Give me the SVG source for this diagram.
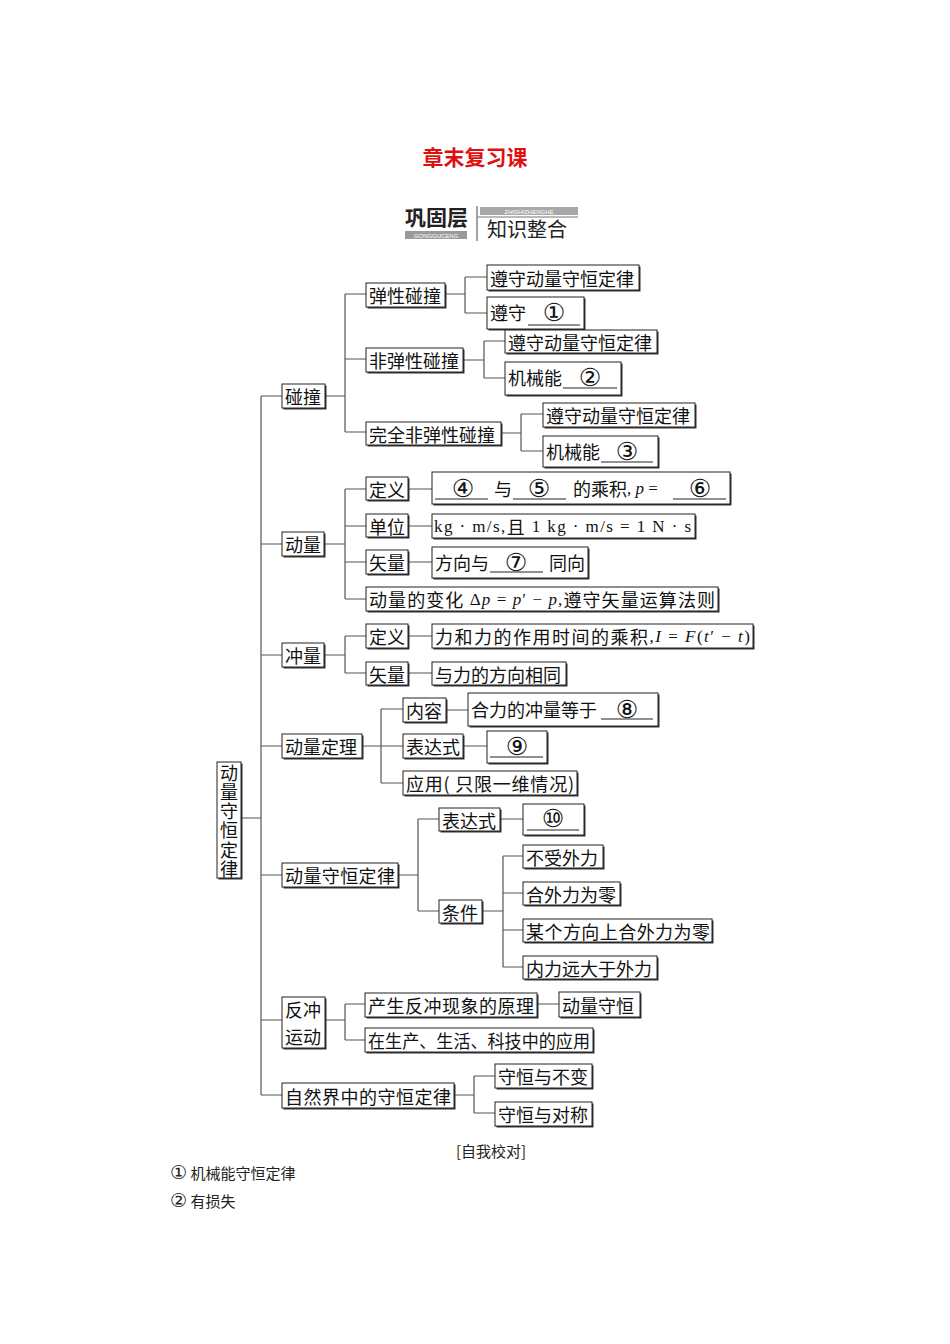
<svg xmlns="http://www.w3.org/2000/svg" width="950" height="1344" viewBox="0 0 950 1344">
<style>
.bg{fill:#fff}
.sh{fill:#333}
.bx{fill:#fff;stroke:#222;stroke-width:1}
.t{font-family:"Noto Sans CJK SC","Noto Sans",sans-serif;font-size:18px;fill:#111;dominant-baseline:central}
.cn{font-family:"DejaVu Sans","Noto Sans CJK SC",sans-serif;font-size:25px;fill:#111;dominant-baseline:central}
.m{font-family:"Liberation Serif","Noto Sans CJK SC",serif;font-size:17px;fill:#111}
.i{font-style:italic}
.ul{stroke:#222;stroke-width:1}
.c{fill:none;stroke:#555;stroke-width:1.2}
.fn{font-family:"Noto Sans CJK SC",sans-serif;font-size:15px;fill:#222;dominant-baseline:central}
</style>
<rect class="bg" x="0" y="0" width="950" height="1344"/>

<g id="title">
<text x="475" y="156" text-anchor="middle" style="font-family:'Noto Sans CJK SC',sans-serif;font-size:21px;font-weight:bold;fill:#e01010" dominant-baseline="central">章末复习课</text>
</g>

<g id="header">
<text x="405" y="225" style="font-family:'Noto Sans CJK SC',sans-serif;font-size:21px;font-weight:bold;fill:#222">巩固层</text>
<rect x="405" y="231" width="62" height="8" fill="#9a9a9a"/>
<text x="436" y="237.5" text-anchor="middle" style="font-family:'Liberation Sans',sans-serif;font-size:6px;fill:#fff">GONGGUCENG</text>
<line x1="477" y1="206" x2="477" y2="241" stroke="#444" stroke-width="1"/>
<rect x="480" y="207" width="98" height="8" fill="#a8a8a8"/>
<text x="529" y="213.5" text-anchor="middle" style="font-family:'Liberation Sans',sans-serif;font-size:6px;fill:#fff">ZHISHIZHENGHE</text>
<line x1="477" y1="217" x2="578" y2="217" stroke="#777" stroke-width="1"/>
<text x="487" y="237" style="font-family:'Noto Sans CJK SC',sans-serif;font-size:20px;fill:#222">知识整合</text>
</g>

<g id="connectors">
<path class="c" d="M241,818H261M261,396V1095M261,396H282M261,544H282M261,655H282M261,746H282M261,875H282M261,1020H282M261,1095H282"/>
<path class="c" d="M325,396H345M345,294V432M345,294H366M345,359H366M345,432H366"/>
<path class="c" d="M445,294H465M465,277V313M465,277H487M465,313H487"/>
<path class="c" d="M463,360H484M484,341V378M484,341H505M484,378H505"/>
<path class="c" d="M501,433H521M521,414V451M521,414H543M521,451H543"/>
<path class="c" d="M324,544H345M345,489V599M345,489H366M345,526H366M345,562H366M345,599H366"/>
<path class="c" d="M408,489H432M408,526H432M408,562H432"/>
<path class="c" d="M324,655H345M345,636V673M345,636H366M345,673H366M408,636H432M408,673H432"/>
<path class="c" d="M362,746H381M381,709V783M381,709H403M381,746H403M381,783H403M446,710H468M463,746H487"/>
<path class="c" d="M398,875H418M418,819V911M418,819H439M418,911H439M500,819H523"/>
<path class="c" d="M482,911H503M503,856V967M503,856H523M503,893H523M503,930H523M503,967H523"/>
<path class="c" d="M325,1020H345M345,1004V1040M345,1004H365M345,1040H365M537,1004H559"/>
<path class="c" d="M454,1095H474M474,1076V1113M474,1076H495M474,1113H495"/>
</g>

<g id="root">
<rect class="sh" x="218.5" y="763.5" width="24" height="116"/>
<rect class="bx" x="217" y="762" width="24" height="116"/>
<text x="229" y="764" style="font-family:'Noto Sans CJK SC',sans-serif;font-size:18px;fill:#111;writing-mode:vertical-rl;letter-spacing:1.2px">动量守恒定律</text>
</g>

<g id="n-pengzhuang"><rect class="sh" x="283.5" y="385.5" width="43" height="24"/><rect class="bx" x="282" y="384" width="43" height="24"/><text class="t" x="285" y="396">碰撞</text></g>
<g id="n-tanxing"><rect class="sh" x="367.5" y="284.5" width="79" height="24"/><rect class="bx" x="366" y="283" width="79" height="24"/><text class="t" x="369" y="295">弹性碰撞</text></g>
<g id="n-tanxing-1"><rect class="sh" x="488.5" y="266.5" width="152" height="25"/><rect class="bx" x="487" y="265" width="152" height="25"/><text class="t" x="490" y="277.5">遵守动量守恒定律</text></g>
<g id="n-tanxing-2"><rect class="sh" x="488.5" y="298.5" width="97" height="32"/><rect class="bx" x="487" y="297" width="97" height="32"/><text class="t" x="490" y="312">遵守</text><line class="ul" x1="528" y1="325" x2="580" y2="325"/><text class="cn" x="554" y="312" text-anchor="middle">①</text></g>
<g id="n-feitanxing"><rect class="sh" x="367.5" y="349.5" width="97" height="24"/><rect class="bx" x="366" y="348" width="97" height="24"/><text class="t" x="369" y="360">非弹性碰撞</text></g>
<g id="n-feitanxing-1"><rect class="sh" x="506.5" y="331.5" width="152" height="23"/><rect class="bx" x="505" y="330" width="152" height="23"/><text class="t" x="508" y="341.5">遵守动量守恒定律</text></g>
<g id="n-feitanxing-2"><rect class="sh" x="506.5" y="363.5" width="116" height="33"/><rect class="bx" x="505" y="362" width="116" height="33"/><text class="t" x="508" y="377">机械能</text><line class="ul" x1="563" y1="388" x2="617" y2="388"/><text class="cn" x="590" y="377" text-anchor="middle">②</text></g>
<g id="n-wanquan"><rect class="sh" x="367.5" y="423.5" width="135" height="23"/><rect class="bx" x="366" y="422" width="135" height="23"/><text class="t" x="369" y="433.5">完全非弹性碰撞</text></g>
<g id="n-wanquan-1"><rect class="sh" x="544.5" y="404.5" width="152" height="24"/><rect class="bx" x="543" y="403" width="152" height="24"/><text class="t" x="546" y="415">遵守动量守恒定律</text></g>
<g id="n-wanquan-2"><rect class="sh" x="544.5" y="437.5" width="115" height="31"/><rect class="bx" x="543" y="436" width="115" height="31"/><text class="t" x="546" y="451">机械能</text><line class="ul" x1="601" y1="462" x2="653" y2="462"/><text class="cn" x="627" y="451" text-anchor="middle">③</text></g>

<g id="n-dongliang"><rect class="sh" x="283.5" y="533.5" width="42" height="24"/><rect class="bx" x="282" y="532" width="42" height="24"/><text class="t" x="285" y="544">动量</text></g>
<g id="n-dl-dingyi"><rect class="sh" x="367.5" y="478.5" width="42" height="23"/><rect class="bx" x="366" y="477" width="42" height="23"/><text class="t" x="369" y="488.5">定义</text></g>
<g id="n-dl-dingyi-1"><rect class="sh" x="433.5" y="473.5" width="298" height="32"/><rect class="bx" x="432" y="472" width="298" height="32"/>
<line class="ul" x1="435" y1="499" x2="488" y2="499"/><text class="cn" x="463" y="488" text-anchor="middle">④</text>
<text class="t" x="494" y="488">与</text>
<line class="ul" x1="513" y1="499" x2="566" y2="499"/><text class="cn" x="539" y="488" text-anchor="middle">⑤</text>
<text class="t" x="573" y="488">的乘积<tspan class="m">, </tspan><tspan class="m i">p</tspan><tspan class="m">  =  </tspan></text>
<line class="ul" x1="673" y1="499" x2="726" y2="499"/><text class="cn" x="700" y="488" text-anchor="middle">⑥</text></g>
<g id="n-dl-danwei"><rect class="sh" x="367.5" y="515.5" width="42" height="23"/><rect class="bx" x="366" y="514" width="42" height="23"/><text class="t" x="369" y="525.5">单位</text></g>
<g id="n-dl-danwei-1"><rect class="sh" x="433.5" y="515.5" width="263" height="24"/><rect class="bx" x="432" y="514" width="263" height="24"/><text class="t" x="434" y="526" textLength="257" lengthAdjust="spacing"><tspan class="m">kg · m/s,</tspan>且<tspan class="m"> 1 kg · m/s = 1 N · s</tspan></text></g>
<g id="n-dl-shiliang"><rect class="sh" x="367.5" y="551.5" width="42" height="24"/><rect class="bx" x="366" y="550" width="42" height="24"/><text class="t" x="369" y="562">矢量</text></g>
<g id="n-dl-shiliang-1"><rect class="sh" x="433.5" y="548.5" width="156" height="31"/><rect class="bx" x="432" y="547" width="156" height="31"/><text class="t" x="435" y="562">方向与</text><line class="ul" x1="490" y1="572" x2="543" y2="572"/><text class="cn" x="516" y="562" text-anchor="middle">⑦</text><text class="t" x="549" y="562">同向</text></g>
<g id="n-dl-bianhua"><rect class="sh" x="367.5" y="588.5" width="352" height="24"/><rect class="bx" x="366" y="587" width="352" height="24"/><text class="t" x="369" y="599" textLength="346" lengthAdjust="spacing">动量的变化<tspan class="m"> Δ</tspan><tspan class="m i">p</tspan><tspan class="m"> = </tspan><tspan class="m i">p</tspan><tspan class="m">′ − </tspan><tspan class="m i">p</tspan><tspan class="m">,</tspan>遵守矢量运算法则</text></g>

<g id="n-chongliang"><rect class="sh" x="283.5" y="644.5" width="42" height="24"/><rect class="bx" x="282" y="643" width="42" height="24"/><text class="t" x="285" y="655">冲量</text></g>
<g id="n-cl-dingyi"><rect class="sh" x="367.5" y="625.5" width="42" height="24"/><rect class="bx" x="366" y="624" width="42" height="24"/><text class="t" x="369" y="636">定义</text></g>
<g id="n-cl-dingyi-1"><rect class="sh" x="433.5" y="625.5" width="321" height="24"/><rect class="bx" x="432" y="624" width="321" height="24"/><text class="t" x="435" y="636" textLength="315" lengthAdjust="spacing">力和力的作用时间的乘积<tspan class="m">,</tspan><tspan class="m i">I</tspan><tspan class="m"> = </tspan><tspan class="m i">F</tspan><tspan class="m">(</tspan><tspan class="m i">t</tspan><tspan class="m">′ − </tspan><tspan class="m i">t</tspan><tspan class="m">)</tspan></text></g>
<g id="n-cl-shiliang"><rect class="sh" x="367.5" y="663.5" width="42" height="23"/><rect class="bx" x="366" y="662" width="42" height="23"/><text class="t" x="369" y="673.5">矢量</text></g>
<g id="n-cl-shiliang-1"><rect class="sh" x="433.5" y="663.5" width="134" height="23"/><rect class="bx" x="432" y="662" width="134" height="23"/><text class="t" x="435" y="673.5">与力的方向相同</text></g>

<g id="n-dingli"><rect class="sh" x="283.5" y="735.5" width="80" height="24"/><rect class="bx" x="282" y="734" width="80" height="24"/><text class="t" x="285" y="746">动量定理</text></g>
<g id="n-dingli-neirong"><rect class="sh" x="404.5" y="699.5" width="43" height="24"/><rect class="bx" x="403" y="698" width="43" height="24"/><text class="t" x="406" y="710">内容</text></g>
<g id="n-dingli-neirong-1"><rect class="sh" x="469.5" y="694.5" width="190" height="33"/><rect class="bx" x="468" y="693" width="190" height="33"/><text class="t" x="471" y="709">合力的冲量等于</text><line class="ul" x1="601" y1="719" x2="653" y2="719"/><text class="cn" x="627" y="709" text-anchor="middle">⑧</text></g>
<g id="n-dingli-biaodashi"><rect class="sh" x="404.5" y="735.5" width="60" height="24"/><rect class="bx" x="403" y="734" width="60" height="24"/><text class="t" x="406" y="746">表达式</text></g>
<g id="n-dingli-biaodashi-1"><rect class="sh" x="488.5" y="732.5" width="60" height="32"/><rect class="bx" x="487" y="731" width="60" height="32"/><line class="ul" x1="490" y1="757" x2="543" y2="757"/><text class="cn" x="517" y="746" text-anchor="middle">⑨</text></g>
<g id="n-dingli-yingyong"><rect class="sh" x="404.5" y="772.5" width="174" height="24"/><rect class="bx" x="403" y="771" width="174" height="24"/><text class="t" x="406" y="783" textLength="168" lengthAdjust="spacing">应用( 只限一维情况)</text></g>

<g id="n-shouheng"><rect class="sh" x="283.5" y="864.5" width="116" height="24"/><rect class="bx" x="282" y="863" width="116" height="24"/><text class="t" x="285" y="875" textLength="110" lengthAdjust="spacing">动量守恒定律</text></g>
<g id="n-sh-biaodashi"><rect class="sh" x="440.5" y="809.5" width="61" height="23"/><rect class="bx" x="439" y="808" width="61" height="23"/><text class="t" x="442" y="819.5">表达式</text></g>
<g id="n-sh-biaodashi-1"><rect class="sh" x="524.5" y="805.5" width="61" height="31"/><rect class="bx" x="523" y="804" width="61" height="31"/><line class="ul" x1="527" y1="830" x2="579" y2="830"/><text class="cn" x="553" y="818" text-anchor="middle">⑩</text></g>
<g id="n-sh-tiaojian"><rect class="sh" x="440.5" y="901.5" width="43" height="23"/><rect class="bx" x="439" y="900" width="43" height="23"/><text class="t" x="442" y="911.5">条件</text></g>
<g id="n-tj-1"><rect class="sh" x="524.5" y="846.5" width="80" height="23"/><rect class="bx" x="523" y="845" width="80" height="23"/><text class="t" x="526" y="856.5">不受外力</text></g>
<g id="n-tj-2"><rect class="sh" x="524.5" y="883.5" width="97" height="23"/><rect class="bx" x="523" y="882" width="97" height="23"/><text class="t" x="526" y="893.5">合外力为零</text></g>
<g id="n-tj-3"><rect class="sh" x="524.5" y="920.5" width="189" height="23"/><rect class="bx" x="523" y="919" width="189" height="23"/><text class="t" x="526" y="930.5" textLength="184" lengthAdjust="spacing">某个方向上合外力为零</text></g>
<g id="n-tj-4"><rect class="sh" x="524.5" y="957.5" width="134" height="23"/><rect class="bx" x="523" y="956" width="134" height="23"/><text class="t" x="526" y="967.5">内力远大于外力</text></g>

<g id="n-fanchong"><rect class="sh" x="283.5" y="998.5" width="43" height="51"/><rect class="bx" x="282" y="997" width="43" height="51"/><text class="t"><tspan x="285" y="1009">反冲</tspan><tspan x="285" y="1036">运动</tspan></text></g>
<g id="n-fc-yuanli"><rect class="sh" x="366.5" y="994.5" width="172" height="24"/><rect class="bx" x="365" y="993" width="172" height="24"/><text class="t" x="368" y="1005" textLength="166" lengthAdjust="spacing">产生反冲现象的原理</text></g>
<g id="n-fc-yuanli-1"><rect class="sh" x="560.5" y="993.5" width="81" height="25"/><rect class="bx" x="559" y="992" width="81" height="25"/><text class="t" x="562" y="1004.5">动量守恒</text></g>
<g id="n-fc-yingyong"><rect class="sh" x="366.5" y="1029.5" width="228" height="24"/><rect class="bx" x="365" y="1028" width="228" height="24"/><text class="t" x="368" y="1040" textLength="222" lengthAdjust="spacingAndGlyphs">在生产、生活、科技中的应用</text></g>

<g id="n-ziran"><rect class="sh" x="283.5" y="1084.5" width="172" height="25"/><rect class="bx" x="282" y="1083" width="172" height="25"/><text class="t" x="285" y="1095.5" textLength="166" lengthAdjust="spacing">自然界中的守恒定律</text></g>
<g id="n-ziran-1"><rect class="sh" x="496.5" y="1065.5" width="97" height="24"/><rect class="bx" x="495" y="1064" width="97" height="24"/><text class="t" x="498" y="1076">守恒与不变</text></g>
<g id="n-ziran-2"><rect class="sh" x="496.5" y="1103.5" width="97" height="24"/><rect class="bx" x="495" y="1102" width="97" height="24"/><text class="t" x="498" y="1114">守恒与对称</text></g>

<g id="answers">
<text class="fn" x="491" y="1150" text-anchor="middle">[自我校对]</text>
<text class="fn" x="170" y="1172"><tspan style="font-family:'DejaVu Sans',sans-serif;font-size:19px">①</tspan> 机械能守恒定律</text>
<text class="fn" x="170" y="1200"><tspan style="font-family:'DejaVu Sans',sans-serif;font-size:19px">②</tspan> 有损失</text>
</g>
</svg>
